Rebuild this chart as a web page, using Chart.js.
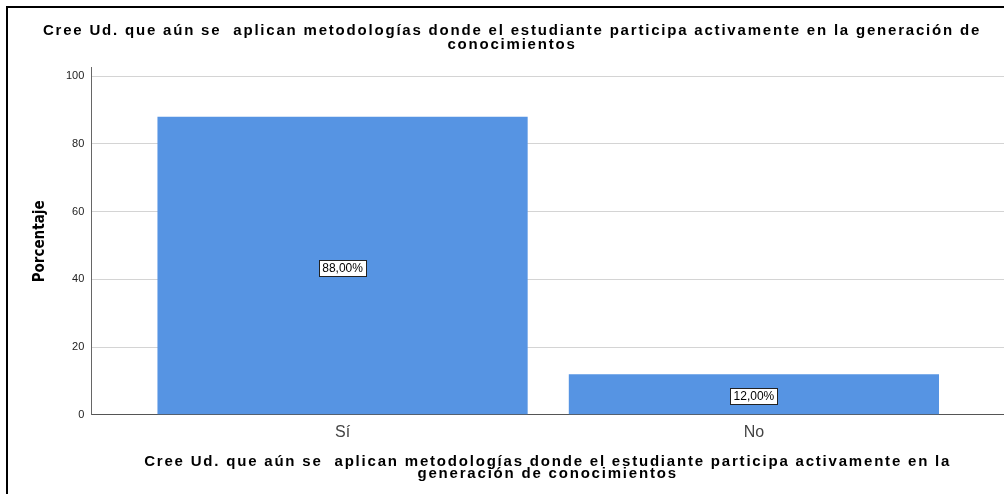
<!DOCTYPE html>
<html lang="es">
<head>
<meta charset="utf-8">
<title>Porcentaje</title>
<script src="https://cdn.jsdelivr.net/npm/chart.js@4.4.1/dist/chart.umd.min.js"></script>
<style>
  html, body { margin: 0; padding: 0; background: #fff; }
  #wrap { width: 1004px; height: 494px; position: relative; }
</style>
</head>
<body>
<div id="wrap"><canvas id="chart"></canvas></div>
<script>
// values
const categories = ["Sí", "No"];
const percentages = [88, 12];
const yTicks = [0, 20, 40, 60, 80, 100];
const chartTitle = [
  "Cree Ud. que aún se  aplican metodologías donde el estudiante participa activamente en la generación de",
  "conocimientos"
];
const xTitle = [
  "Cree Ud. que aún se  aplican metodologías donde el estudiante participa activamente en la",
  "generación de conocimientos"
];
const yTitle = "Porcentaje";

Chart.defaults.font.family = "'Liberation Sans', Arial, sans-serif";

// SPSS draws its titles with wide letter spacing
function withSpacing(chart, obj, method, spacing) {
  if (!obj || obj[method].__spaced) return;
  const orig = obj[method];
  obj[method] = function () {
    const ctx = chart.ctx;
    const prev = ctx.letterSpacing;
    ctx.letterSpacing = spacing;
    orig.apply(this, arguments);
    ctx.letterSpacing = prev;
  };
  obj[method].__spaced = true;
}

const spacedTitles = {
  id: "spacedTitles",
  beforeDraw(chart) {
    withSpacing(chart, chart.titleBlock, "draw", "1.8px");
    withSpacing(chart, chart.scales.x, "drawTitle", "1.8px");
  }
};

// thin black frame on the left and top, as in the exported picture
const frame = {
  id: "frame",
  afterDraw(chart) {
    const ctx = chart.ctx;
    ctx.save();
    ctx.strokeStyle = "#000";
    ctx.lineWidth = 2;
    ctx.beginPath();
    ctx.moveTo(7, chart.height);
    ctx.lineTo(7, 7);
    ctx.lineTo(chart.width, 7);
    ctx.stroke();
    ctx.restore();
  }
};

// boxed percentage labels in the middle of each bar
const barLabels = {
  id: "barLabels",
  afterDatasetsDraw(chart) {
    const ctx = chart.ctx;
    const meta = chart.getDatasetMeta(0);
    const yScale = chart.scales.y;
    ctx.save();
    ctx.font = "12px 'Liberation Sans', Arial, sans-serif";
    ctx.textAlign = "center";
    ctx.textBaseline = "middle";
    meta.data.forEach(function (bar, i) {
      const text = percentages[i].toFixed(2).replace(".", ",") + "%";
      const y = Math.round(yScale.getPixelForValue(percentages[i] / 2)) + 2;
      const w = Math.round(ctx.measureText(text).width) + 6;
      const h = 16;
      const x0 = Math.round(bar.x - w / 2) + 0.5;
      ctx.fillStyle = "#fff";
      ctx.fillRect(x0, y - h / 2 + 0.5, w, h);
      ctx.strokeStyle = "#222";
      ctx.lineWidth = 1;
      ctx.strokeRect(x0, y - h / 2 + 0.5, w, h);
      ctx.fillStyle = "#000";
      ctx.fillText(text, bar.x, y + 1);
    });
    ctx.restore();
  }
};

new Chart(document.getElementById("chart"), {
  type: "bar",
  data: {
    datasets: [{
      data: percentages.map(function (v, i) { return { x: i, y: v }; }),
      backgroundColor: "#5694e3",
      borderWidth: 0,
      barPercentage: 0.9,
      categoryPercentage: 1.0
    }]
  },
  options: {
    responsive: true,
    maintainAspectRatio: false,
    animation: false,
    layout: { padding: { left: 20, right: 0, top: 0, bottom: 10 } },
    plugins: {
      legend: { display: false },
      tooltip: { enabled: false },
      title: {
        display: true,
        text: chartTitle,
        color: "#000",
        font: { size: 15, weight: "bold", lineHeight: 0.933 },
        padding: { top: 24, bottom: 16 }
      }
    },
    scales: {
      x: {
        type: "linear",
        min: -0.6107,
        max: 1.608,
        offset: false,
        afterBuildTicks: function (scale) {
          scale.ticks = categories.map(function (c, i) { return { value: i }; });
        },
        grid: { display: false, drawTicks: false },
        border: { color: "#555", width: 1 },
        ticks: {
          color: "#444",
          font: { size: 16 },
          padding: 8,
          maxRotation: 0,
          callback: function (v) { return categories[v]; }
        },
        title: {
          display: true,
          text: xTitle,
          color: "#000",
          font: { size: 15, weight: "bold", lineHeight: 0.8 },
          padding: { top: 6, bottom: 4 }
        }
      },
      y: {
        min: 0,
        max: 102.4,
        afterBuildTicks: function (scale) {
          scale.ticks = yTicks.map(function (v) { return { value: v }; });
        },
        grid: { color: "#d4d4d4", drawTicks: false },
        border: { color: "#666", width: 1 },
        ticks: { color: "#222", font: { size: 11 }, padding: 7 },
        title: {
          display: true,
          text: yTitle,
          color: "#000",
          font: { family: "'Liberation Sans Narrow', 'DejaVu Sans Condensed', sans-serif", size: 15, weight: "bold", lineHeight: 1.2 },
          padding: { top: 11, bottom: 10 }
        }
      }
    }
  },
  plugins: [spacedTitles, frame, barLabels]
});
</script>
</body>
</html>
